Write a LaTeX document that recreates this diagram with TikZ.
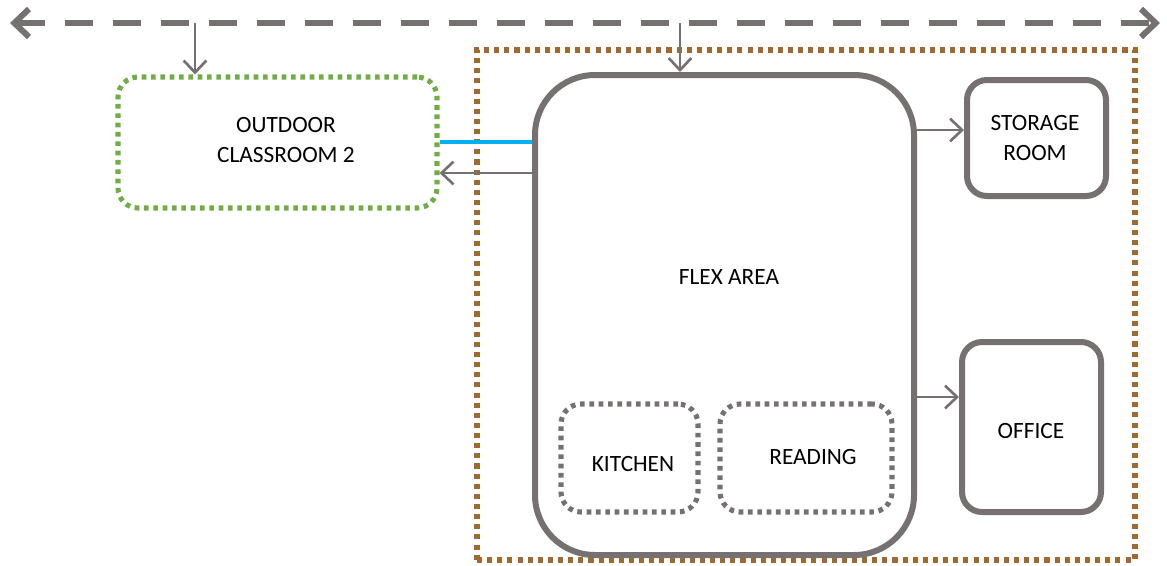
\documentclass[tikz,border=0pt]{standalone}
\usepackage{fontspec}
\setmainfont{Carlito}
\usetikzlibrary{arrows.meta}
\definecolor{gry}{HTML}{767171}
\definecolor{grn}{HTML}{70AD47}
\definecolor{brn}{HTML}{A0692F}
\definecolor{blu}{HTML}{00B0F0}
\tikzset{
  lbl/.style={font=\fontsize{17.5}{22}\selectfont, align=center, text=black},
  room/.style={draw=gry, line width=4.5pt, rounded corners=15pt, inner sep=0pt},
  dotbox/.style={draw=gry, line width=3.8pt, dash pattern=on 3.5pt off 3.5pt, rounded corners=15pt, inner sep=0pt},
  arr/.style={draw=gry, line width=2pt, -{Straight Barb[length=9pt,width=17pt]}},
  bigarr/.style={draw=gry, line width=4.5pt, dash pattern=on 21pt off 15pt, {Straight Barb[length=11pt,width=21pt]}-{Straight Barb[length=11pt,width=21pt]}},
}
\begin{document}
\begin{tikzpicture}[x=0.75pt,y=-0.75pt]
\useasboundingbox (0,0) rectangle (1167,565);
% brown dotted zone
\node[draw=brn, line width=3.8pt, dash pattern=on 3.8pt off 3.8pt, minimum width=493.5pt, minimum height=382.5pt, inner sep=0pt] (zone) at (806,305) {};
% outdoor classroom
\node[draw=grn, line width=3.8pt, dash pattern=on 3.5pt off 3.5pt, rounded corners=15pt, minimum width=239.25pt, minimum height=98.25pt, inner sep=0pt] (outdoor) at (277.5,142.5) {};
\node[lbl] (outdoorlbl) at (286,140) {OUTDOOR\\CLASSROOM 2};
% flex area
\node[room, rounded corners=45pt, minimum width=284.25pt, minimum height=360pt] (flex) at (724.5,315) {};
\node[lbl] (flexlbl) at (729,277) {FLEX AREA};
% storage, office
\node[room, minimum width=104.25pt, minimum height=87pt] (storage) at (1036.5,138) {};
\node[lbl] (storagelbl) at (1035,138) {STORAGE\\ROOM};
\node[room, minimum width=104.25pt, minimum height=127.5pt] (office) at (1031.5,427) {};
\node[lbl] (officelbl) at (1031,431) {OFFICE};
% kitchen, reading
\node[dotbox, minimum width=102.75pt, minimum height=81pt] (kitchen) at (629.5,458) {};
\node[lbl] (kitchenlbl) at (633,464) {KITCHEN};
\node[dotbox, minimum width=129pt, minimum height=81pt] (reading) at (806,458) {};
\node[lbl] (readinglbl) at (813,457) {READING};
% top dashed corridor
\coordinate (cl) at (10,23);
\coordinate (cr) at (1160,23);
\draw[bigarr] (cl) -- (cr);
\coordinate (d1) at (195,23);
\coordinate (d2) at (680,23);
\draw[arr] (d1) -- (d1 |- outdoor.north);
\draw[arr] (d2) -- (d2 |- flex.north);
% links
\draw[blu, line width=2.5pt] (flex.west |- 0,142) -- (outdoor.east |- 0,142);
\draw[arr] (flex.west |- 0,173) -- (outdoor.east |- 0,173);
\draw[arr] (flex.east |- 0,130) -- (storage.west |- 0,130);
\draw[arr] (flex.east |- 0,397) -- (office.west |- 0,397);
\end{tikzpicture}
\end{document}
